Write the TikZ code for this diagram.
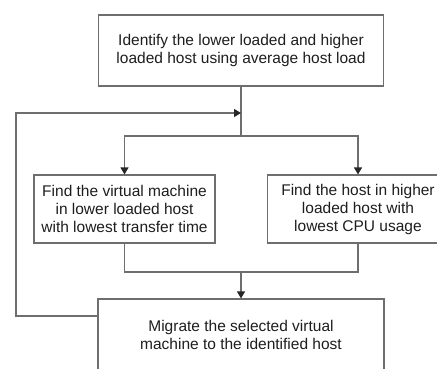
\documentclass[tikz,border=0pt]{standalone}
\usepackage{fontspec}
\setmainfont{Liberation Sans}
\usetikzlibrary{arrows.meta}
\definecolor{linegray}{HTML}{6E6E6E}
\definecolor{txt}{HTML}{1E1E1E}
\begin{document}
\begin{tikzpicture}[x=1pt,y=-1pt,
  box/.style={draw=linegray,line width=1.2pt,fill=white,inner sep=0pt,align=center,text=txt,
    font=\fontsize{15.5}{18}\selectfont},
  conn/.style={draw=linegray,line width=1.2pt},
  arr/.style={conn,-{Triangle[width=8pt,length=7pt,color=black!85]}}]
\useasboundingbox (0,0) rectangle (437,369);
\clip (0,0) rectangle (437,369);
\node[box,minimum width=285pt,minimum height=71pt] (top) at (241,50.5)
  {Identify the lower loaded and higher\\loaded host using average host load};
\node[box,minimum width=181pt,minimum height=68pt] (left) at (124.5,209)
  {Find the virtual machine\\in lower loaded host\\with lowest transfer time};
\node[box,minimum width=181pt,minimum height=68pt] (right) at (358,209)
  {Find the host in higher\\loaded host with\\lowest CPU usage};
\node[box,minimum width=286pt,minimum height=71pt] (bot) at (241,334.5)
  {Migrate the selected virtual\\machine to the identified host};
\coordinate (join) at (241,113);
\coordinate (split) at (241,136);
\coordinate (merge) at (241,272);
\coordinate (loopstart) at (98,316);
\coordinate (loopA) at (16,316);
\coordinate (loopB) at (16,113);
\draw[conn] (top.south) -- (split);
\draw[arr] (split) -| (left.north);
\draw[arr] (split) -| (right.north);
\draw[conn] (left.south) |- (merge);
\draw[conn] (right.south) |- (merge);
\draw[arr] (merge) -- (bot.north);
\draw[arr] (loopstart) -- (loopA) -- (loopB) -- (join);
\end{tikzpicture}
\end{document}
